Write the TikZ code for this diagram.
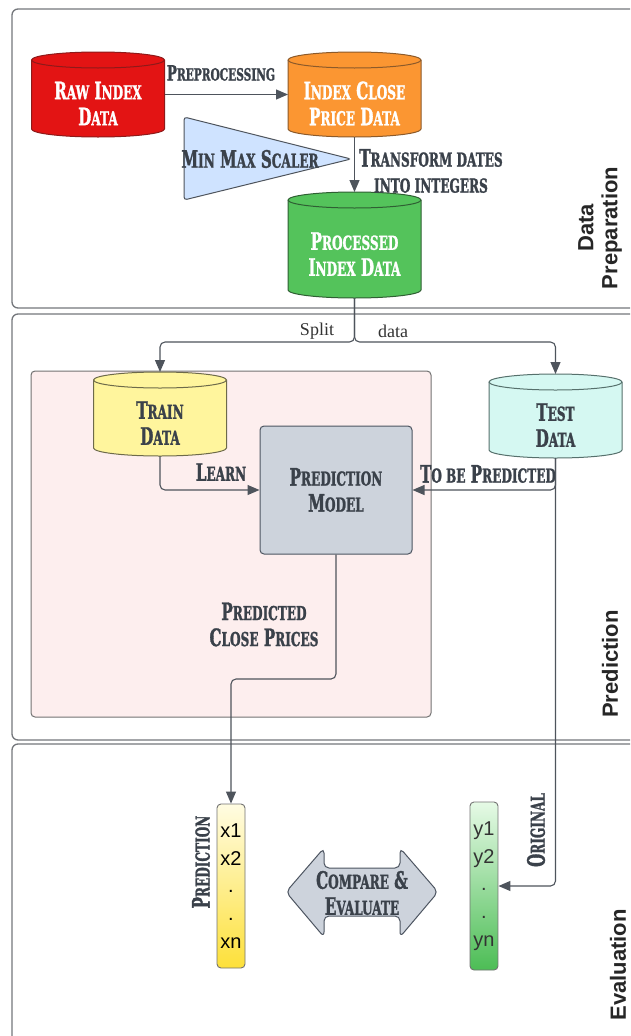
\documentclass[tikz,border=0pt]{standalone}
\usepackage{fontspec}
\usepackage{graphicx}
\usetikzlibrary{arrows.meta}
\setmainfont{Liberation Sans}
\newfontfamily\dispfont[FakeStretch=0.63,BoldFeatures={FakeBold=1.3}]{DejaVu Serif}
\newfontfamily\splitfont{Liberation Serif}
% small capitals made by scaling capital letters
\newcommand\sm[1]{\scalebox{0.8}{#1}}

\definecolor{ink}{HTML}{3A414A}
\definecolor{wire}{HTML}{4E545C}
\definecolor{panelc}{HTML}{74777C}
\definecolor{rawfill}{HTML}{E31414}
\definecolor{rawedge}{HTML}{8E1A1A}
\definecolor{closefill}{HTML}{FB9632}
\definecolor{closeedge}{HTML}{8C5A2A}
\definecolor{procfill}{HTML}{54C35B}
\definecolor{procedge}{HTML}{2F5F33}
\definecolor{trainfill}{HTML}{FFF59D}
\definecolor{trainedge}{HTML}{6D6A4A}
\definecolor{testfill}{HTML}{D5F8F2}
\definecolor{testedge}{HTML}{56706C}
\definecolor{modelfill}{HTML}{CDD3DC}
\definecolor{modeledge}{HTML}{4D5561}
\definecolor{scalerfill}{HTML}{CFE3FF}
\definecolor{pinkfill}{HTML}{FDEEEE}
\definecolor{xtop}{HTML}{FFFCE2}
\definecolor{xbot}{HTML}{FDE03A}
\definecolor{ytop}{HTML}{E6FAE6}
\definecolor{ybot}{HTML}{4CBD55}

% cylinder: name, centre x, top y, bottom y, body style, label style, label
\newcommand\cyl[7]{%
  \path[cylbody,#5] ({#2-66.5},{#3+8}) -- ({#2-66.5},{#4-8})
     arc[start angle=180,end angle=360,x radius=66.5pt,y radius=8pt]
     -- ({#2+66.5},{#3+8})
     arc[start angle=0,end angle=180,x radius=66.5pt,y radius=8pt] -- cycle;
  \draw[cylrim,#5] ({#2-66.5},{#3+8})
     arc[start angle=180,end angle=360,x radius=66.5pt,y radius=8pt];
  \node[cylnode,minimum height={#4-#3}] (#1) at (#2,{(#3+#4)/2}) {};
  \node[disp,#6] (#1-text) at (#2,{(#3+#4)/2+9}) {#7};
}

\begin{document}
\begin{tikzpicture}[x=1pt,y=-1pt,
  disp/.style={font={\dispfont\bfseries\fontsize{24}{26}\selectfont},align=center,text=ink,inner sep=0pt},
  dispsmall/.style={disp,font={\dispfont\bfseries\fontsize{21}{24}\selectfont}},
  cylbody/.style={line width=1pt},
  cylrim/.style={line width=1pt,fill=none},
  cylnode/.style={rectangle,minimum width=133pt,inner sep=0pt,outer sep=0pt},
  panel/.style={draw=panelc,line width=1.3pt,fill=white,rounded corners=6pt},
  conn/.style={draw=wire,line width=1.1pt,rounded corners=5pt,-{Triangle[length=12pt,width=10pt]}},
  side/.style={font={\bfseries\fontsize{22}{24}\selectfont},text=black!85,align=center,rotate=90},
  col/.style={rectangle,rounded corners=4pt,draw=black!55,line width=0.9pt,minimum width=28pt,
     inner sep=0pt,align=center,font={\fontsize{20}{27.75}\selectfont}},
  splitlbl/.style={font={\splitfont\fontsize{18}{20}\selectfont},text=black!80}]

\useasboundingbox (0,0) rectangle (630,1036);
\clip (0,0) rectangle (630,1036);
\fill[white] (0,0) rectangle (630,1036);

% the three stages
\draw[panel] (12,9) rectangle (650,308);
\draw[panel] (12,314) rectangle (650,740);
\draw[panel] (12,744) rectangle (650,1060);

% training area
\draw[fill=pinkfill,draw=black!55,line width=1pt,rounded corners=4pt] (31,371) rectangle (431,717);

% data stores
\cyl{raw}{98}{52}{137}{fill=rawfill,draw=rawedge}{text=white}{R\sm{AW} I\sm{NDEX}\\D\sm{ATA}}
\cyl{close}{354.5}{52}{137}{fill=closefill,draw=closeedge}{text=white}{I\sm{NDEX} C\sm{LOSE}\\P\sm{RICE} D\sm{ATA}}
\cyl{proc}{354.5}{192}{298}{fill=procfill,draw=procedge}{text=white}{P\sm{ROCESSED}\\I\sm{NDEX} D\sm{ATA}}
\cyl{train}{160}{372}{456}{fill=trainfill,draw=trainedge}{}{T\sm{RAIN}\\D\sm{ATA}}
\cyl{test}{555.5}{374}{458}{fill=testfill,draw=testedge}{}{T\sm{EST}\\D\sm{ATA}}

% scaler
\draw[fill=scalerfill,draw=wire,line width=1pt,rounded corners=3pt] (184,117) -- (351,159) -- (184,200) -- cycle;
\node[disp] (scaler) at (250,159) {M\sm{IN} M\sm{AX} S\sm{CALER}};

% model
\node[rectangle,rounded corners=4pt,fill=modelfill,draw=modeledge,line width=1pt,
      minimum width=152pt,minimum height=128pt,disp] (model) at (336,490) {P\sm{REDICTION}\\M\sm{ODEL}};

% connectors
\draw[conn] (raw.east) -- (close.west);
\node[dispsmall] (prep) at (221,73) {P\sm{REPROCESSING}};
\draw[conn] (close.south) -- (proc.north);
\node[disp] (transform) at (431,171) {T\sm{RANSFORM DATES}\\\sm{INTO INTEGERS}};

\coordinate (fork) at (354.5,342);
\draw[conn] (proc.south) -- (fork) -| (train.north);
\draw[conn] (proc.south) -- (fork) -| (test.north);
\node[splitlbl] (split) at (317,331) {Split};
\node[splitlbl] (splitb) at (393,331) {data};

\draw[conn] (train.south) |- (model.west);
\node[disp] (learn) at (221,472) {L\sm{EARN}};
\draw[conn] (test.south) |- (model.east);
\node[disp] (tobe) at (488,474) {T\sm{O BE} P\sm{REDICTED}};

% evaluation columns
\node[col,top color=xtop,bottom color=xbot,minimum height=164pt,text=black]
   (xcol) at (231,886) {x1\\x2\\.\\.\\xn};
\node[col,top color=ytop,bottom color=ybot,minimum height=168pt,text=black!80]
   (ycol) at (484,886) {y1\\y2\\.\\.\\yn};

\coordinate (bend) at (231,679);
\draw[conn] (model.south) |- (bend) -- (xcol.north);
\node[disp] (predcl) at (264,624.5) {P\sm{REDICTED}\\C\sm{LOSE} P\sm{RICES}};
\draw[conn] (test.south) |- (ycol.east);

\node[disp,rotate=90] (predlbl) at (201,862) {P\sm{REDICTION}};
\node[disp,rotate=90] (origlbl) at (536,830) {O\sm{RIGINAL}};

% compare arrow
\draw[fill=modelfill,draw=modeledge,line width=1pt,rounded corners=5pt]
  (286,892) -- (324,848) -- (324,868) -- (400,868) -- (400,848) -- (438,892)
  -- (400,937) -- (400,916) -- (324,916) -- (324,937) -- cycle;
\node[disp] (cmp) at (362,893) {C\sm{OMPARE} \&\\E\sm{VALUATE}};

% stage titles
\node[side] (sdp) at (600,228) {Data\\Preparation};
\node[side] (spr) at (610,664) {Prediction};
\node[side] (sev) at (618,965) {Evaluation};
\end{tikzpicture}
\end{document}
